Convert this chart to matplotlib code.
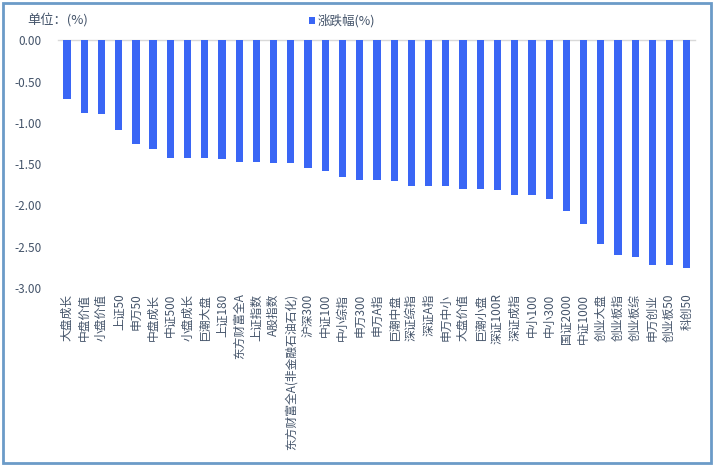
import matplotlib
matplotlib.use("Agg")
import matplotlib.pyplot as plt
from matplotlib.patches import Rectangle
import numpy as np

plt.rcParams['font.family'] = ['Noto Sans CJK SC', 'DejaVu Sans']

# 指数名称
names = ["大盘成长", "中盘价值", "小盘价值", "上证50", "申万50", "中盘成长", "中证500",
         "小盘成长", "巨潮大盘", "上证180", "东方财富全A", "上证指数", "A股指数",
         "东方财富全A(非金融石油石化)", "沪深300", "中证100", "中小综指", "申万300",
         "申万A指", "巨潮中盘", "深证综指", "深证A指", "申万中小", "大盘价值", "巨潮小盘",
         "深证100R", "深证成指", "中小100", "中小300", "国证2000", "中证1000", "创业大盘",
         "创业板指", "创业板综", "申万创业", "创业板50", "科创50"]
# 涨跌幅 (%)
changes = [-0.71, -0.875, -0.89, -1.09, -1.26, -1.32, -1.42, -1.43, -1.43, -1.44,
           -1.47, -1.48, -1.49, -1.49, -1.55, -1.58, -1.65, -1.69, -1.69, -1.70,
           -1.76, -1.76, -1.77, -1.80, -1.80, -1.81, -1.87, -1.87, -1.92, -2.07,
           -2.22, -2.47, -2.60, -2.62, -2.72, -2.72, -2.76]
yticks = [0, -0.5, -1.0, -1.5, -2.0, -2.5, -3.0]

txt = "#44546a"
fig = plt.figure(figsize=(7.15, 4.66), dpi=100)
# 外框
fig.patches.append(Rectangle((0.004, 0.006), 0.991, 0.987, transform=fig.transFigure,
                             fill=False, edgecolor="#6b9bc8", linewidth=2))

ax = fig.add_axes([0.0817, 0.382, 0.891, 0.5315])
x = np.arange(len(names))
ax.bar(x, changes, width=0.42, color="#3a66f5", label="涨跌幅(%)", zorder=3)
ax.set_xlim(-0.5, len(names) - 0.5)
ax.set_ylim(-3.0, 0)
ax.set_yticks(yticks)
ax.set_yticklabels([f"{v:.2f}" for v in yticks])
ax.set_xticks(x)
ax.set_xticklabels(names, rotation=90)
ax.tick_params(axis="both", length=0, colors=txt, labelsize=8.5)
ax.tick_params(axis="x", pad=4)
ax.tick_params(axis="y", pad=12)
for s in ["left", "right", "bottom"]:
    ax.spines[s].set_visible(False)
ax.spines["top"].set_color("#d9d9d9")
ax.spines["top"].set_linewidth(1)

fig.text(0.038, 0.957, "单位：(%)", color=txt, fontsize=9.5, va="center")
ax.legend(loc="upper center", bbox_to_anchor=(0.445, 1.15), frameon=False,
          fontsize=9, labelcolor=txt, handlelength=0.5, handleheight=0.5,
          handletextpad=0.2)

fig.savefig("out.png", dpi=100)
